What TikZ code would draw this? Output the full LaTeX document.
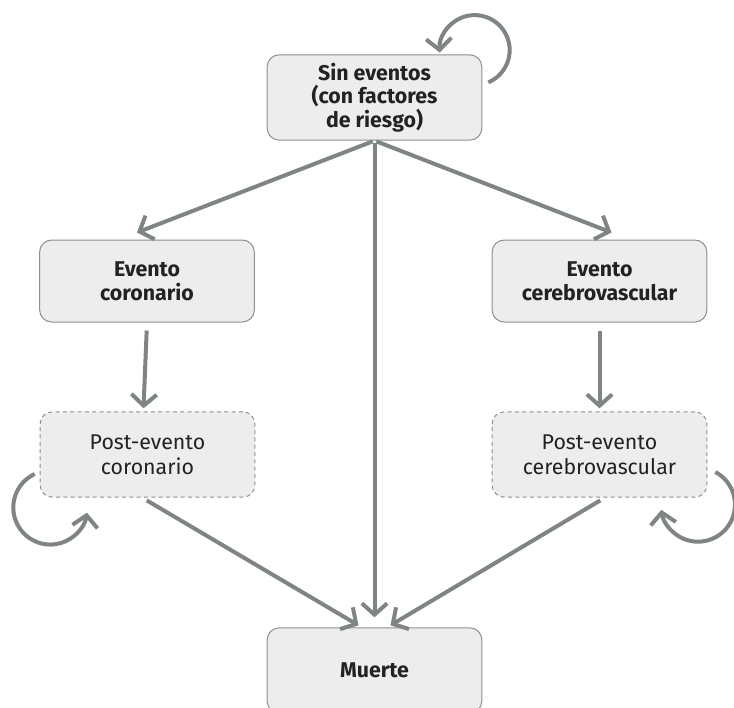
\documentclass[tikz,border=0pt]{standalone}
\usepackage{fontspec}
\setmainfont{Fira Sans}
\usetikzlibrary{arrows.meta,positioning,calc}
\usepackage{xcolor}
\definecolor{boxfill}{HTML}{EDEDED}
\definecolor{boxline}{HTML}{8E8E8E}
\definecolor{flowgray}{HTML}{7F8485}
\definecolor{textdark}{HTML}{222222}

\begin{document}
\begin{tikzpicture}[x=0.75pt, y=-0.75pt, >={Straight Barb[length=8.5pt,width=19pt]},
    state/.style={draw=boxline, line width=0.75pt, rounded corners=9pt, fill=boxfill,
        minimum width=161pt, minimum height=63pt, align=center, text=textdark,
        font=\fontsize{16}{18}\selectfont\bfseries},
    poststate/.style={state, dash pattern=on 3pt off 2.5pt,
        font=\fontsize{16}{18.5}\selectfont},
    flow/.style={->, draw=flowgray, line width=3pt}]
    \useasboundingbox (0,0) rectangle (734,707);

    % States
    \node[state, minimum height=64pt, font=\fontsize{16}{17.5}\selectfont\bfseries] (sin) at (374.5,97.5) {Sin eventos\\(con factores\\de riesgo)};
    \node[state, minimum height=61.5pt] (evc) at (147,281) {Evento\\coronario};
    \node[state, minimum height=61.5pt] (evb) at (599.5,281) {Evento\\cerebrovascular};
    \node[poststate, minimum height=64pt] (pec) at (147.5,454.5) {Post-evento\\coronario};
    \node[poststate, minimum height=64pt] (pcv) at (599.5,454.5) {Post-evento\\cerebrovascular};
    \node[state, minimum height=64pt] (mue) at (374.5,670.5) {Muerte};

    % Transitions
    \draw[flow, shorten <=1.5pt] (sin.south) -- ([shift={(-10,-7)}]evc.north);
    \draw[flow, shorten <=1.5pt] (sin.south) -- ([shift={(12,-7)}]evb.north);
    \draw[flow, shorten <=1.5pt] (sin.south) -- ([shift={(0,-10)}]mue.north);
    \draw[flow, shorten <=6pt] (evc.south) -- ([shift={(-4,-3)}]pec.north);
    \draw[flow, shorten <=6pt] (evb.south) -- ([shift={(0,-3)}]pcv.north);
    \draw[flow, shorten <=4pt] ([xshift=-4]pec.south) -- ([shift={(-16,-2)}]mue.north);
    \draw[flow, shorten <=4pt] ([xshift=4]pcv.south) -- ([shift={(16,-2)}]mue.north);

    % Loops
    \draw[flow] ([shift={(6,28)}]sin.north east) arc[start angle=-67, end angle=184, radius=26.25pt];
    \draw[flow] ([shift={(-5,19.5)}]pec.west) arc[start angle=115, end angle=352, radius=27.75pt];
    \draw[flow] ([shift={(8,17.5)}]pcv.east) arc[start angle=62, end angle=-172, radius=27.75pt];
\end{tikzpicture}
\end{document}
